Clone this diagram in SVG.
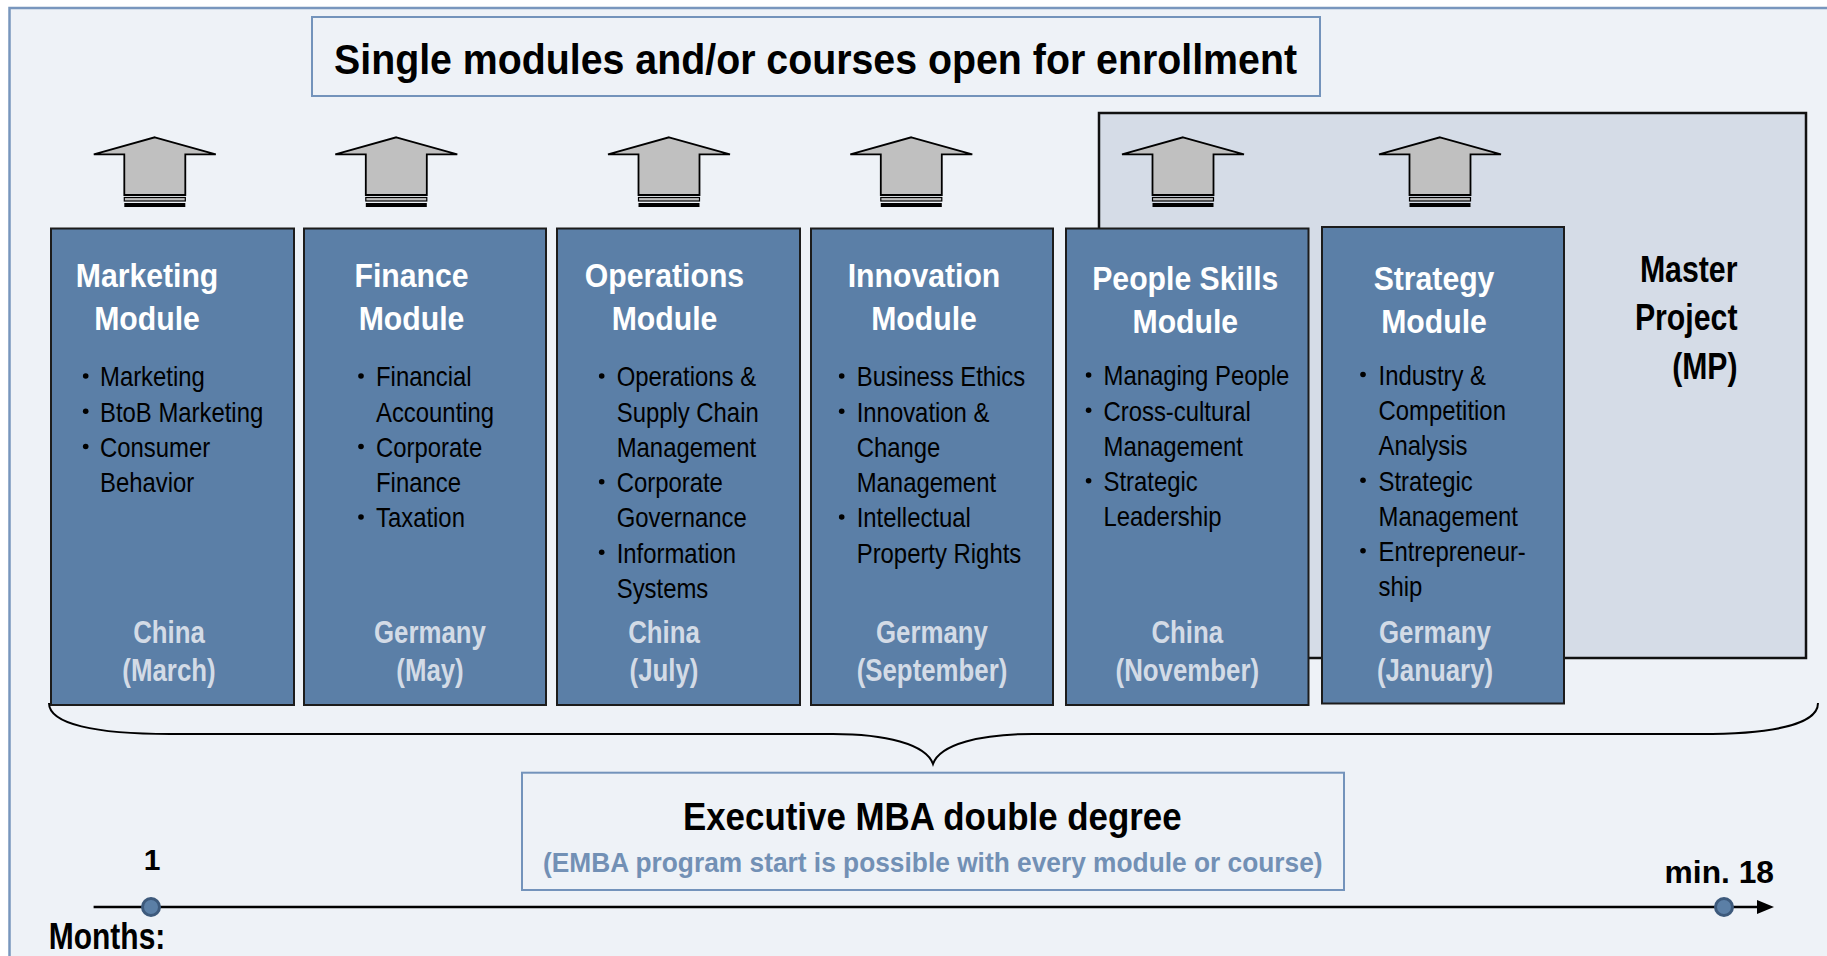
<svg xmlns="http://www.w3.org/2000/svg" width="1827" height="956" viewBox="0 0 1827 956">
<style>
text{font-family:"Liberation Sans",Arial,sans-serif}
.mod{fill:#5b7fa7;stroke:#1c1c1c;stroke-width:2}
.mt{font-size:33px;font-weight:bold;fill:#ffffff}
.bl{font-size:28px;fill:#000000}
.loc{font-size:31.5px;font-weight:bold;fill:#d3dbe6}
.dot{fill:#000000}
.tl{font-size:30px;font-weight:bold;fill:#000}
</style>
<defs>
<g id="arr">
<polygon points="0,137.3 61,154.3 30.5,154.3 30.5,195 -30.5,195 -30.5,154.3 -61,154.3" fill="#c0c0c0" stroke="#000" stroke-width="1.8"/>
<rect x="-30.5" y="197.5" width="61" height="3.5" fill="#c0c0c0" stroke="#000" stroke-width="1.2"/>
<rect x="-30.5" y="203" width="61" height="4" fill="#000"/>
</g>
<marker id="ah" markerUnits="userSpaceOnUse" markerWidth="20" markerHeight="16" refX="0" refY="0" orient="auto" overflow="visible"><polygon points="0,-7 17,0 0,7" fill="#000"/></marker>
</defs>
<rect x="0" y="0" width="1827" height="956" fill="#ffffff"/>
<rect x="9.5" y="8" width="1840" height="970" fill="#eef2f7" stroke="#7896bd" stroke-width="2.5"/>

<g id="title-box">
<rect x="312" y="17" width="1008" height="79" fill="#eef2f7" stroke="#7393bb" stroke-width="2"/>
<text x="815.5" y="74" text-anchor="middle" font-size="43" font-weight="bold" textLength="963" lengthAdjust="spacingAndGlyphs">Single modules and/or courses open for enrollment</text>
</g>

<g id="master-project">
<rect x="1099" y="113" width="707" height="545" fill="#d5dce7" stroke="#111" stroke-width="2.5"/>
<text x="1737.5" y="282" text-anchor="end" font-size="36" font-weight="bold" textLength="97.6" lengthAdjust="spacingAndGlyphs">Master</text>
<text x="1737.5" y="330" text-anchor="end" font-size="36" font-weight="bold" textLength="102.6" lengthAdjust="spacingAndGlyphs">Project</text>
<text x="1737.5" y="379" text-anchor="end" font-size="36" font-weight="bold" textLength="65.3" lengthAdjust="spacingAndGlyphs">(MP)</text>
</g>

<g id="connectors">
<use href="#arr" x="154.8"/>
<use href="#arr" x="396.3"/>
<use href="#arr" x="669"/>
<use href="#arr" x="911.3"/>
<use href="#arr" x="1183"/>
<use href="#arr" x="1440"/>
<path d="M49,703 C49,724 95,734 170,734 L833,734 C885,734 926,744 933,764 C940,744 981,734 1033,734 L1700,734 C1770,734 1818,725 1818,703" fill="none" stroke="#000" stroke-width="2"/>
<line x1="93.6" y1="907" x2="1757" y2="907" stroke="#000" stroke-width="2.5" marker-end="url(#ah)"/>
<circle cx="151" cy="907" r="8.5" fill="#5b7fa6" stroke="#3d5a7c" stroke-width="3"/>
<circle cx="1724" cy="907" r="8.5" fill="#5b7fa6" stroke="#3d5a7c" stroke-width="3"/>
</g>

<g id="marketing-module">
<rect class="mod" x="51" y="228.5" width="243" height="476.5"/>
<text class="mt" text-anchor="middle" transform="translate(147 0) scale(0.915 1)" x="0" y="286.7">Marketing</text>
<text class="mt" text-anchor="middle" transform="translate(147 0) scale(0.915 1)" x="0" y="330">Module</text>
<circle class="dot" cx="85.7" cy="376" r="2.8"/><circle class="dot" cx="85.7" cy="411.25" r="2.8"/><circle class="dot" cx="85.7" cy="446.5" r="2.8"/>
<g transform="translate(100 0) scale(0.853 1)">
<text class="bl" x="0" y="386.5">Marketing</text>
<text class="bl" x="0" y="421.75">BtoB Marketing</text>
<text class="bl" x="0" y="457">Consumer</text>
<text class="bl" x="0" y="492.25">Behavior</text>
</g>
<text class="loc" text-anchor="middle" transform="translate(169 0) scale(0.82 1)" x="0" y="643.5">China</text>
<text class="loc" text-anchor="middle" transform="translate(169 0) scale(0.82 1)" x="0" y="681.5">(March)</text>
</g>

<g id="finance-module">
<rect class="mod" x="304" y="228.5" width="242" height="476.5"/>
<text class="mt" text-anchor="middle" transform="translate(411.5 0) scale(0.915 1)" x="0" y="286.7">Finance</text>
<text class="mt" text-anchor="middle" transform="translate(411.5 0) scale(0.915 1)" x="0" y="330">Module</text>
<circle class="dot" cx="361" cy="376" r="2.8"/><circle class="dot" cx="361" cy="446.5" r="2.8"/><circle class="dot" cx="361" cy="517" r="2.8"/>
<g transform="translate(376 0) scale(0.853 1)">
<text class="bl" x="0" y="386.5">Financial</text>
<text class="bl" x="0" y="421.75">Accounting</text>
<text class="bl" x="0" y="457">Corporate</text>
<text class="bl" x="0" y="492.25">Finance</text>
<text class="bl" x="0" y="527.5">Taxation</text>
</g>
<text class="loc" text-anchor="middle" transform="translate(430 0) scale(0.82 1)" x="0" y="643.5">Germany</text>
<text class="loc" text-anchor="middle" transform="translate(430 0) scale(0.82 1)" x="0" y="681.5">(May)</text>
</g>

<g id="operations-module">
<rect class="mod" x="557" y="228.5" width="243" height="476.5"/>
<text class="mt" text-anchor="middle" transform="translate(664.5 0) scale(0.915 1)" x="0" y="286.7">Operations</text>
<text class="mt" text-anchor="middle" transform="translate(664.5 0) scale(0.915 1)" x="0" y="330">Module</text>
<circle class="dot" cx="601.7" cy="376" r="2.8"/><circle class="dot" cx="601.7" cy="481.75" r="2.8"/><circle class="dot" cx="601.7" cy="552.25" r="2.8"/>
<g transform="translate(616.7 0) scale(0.853 1)">
<text class="bl" x="0" y="386.5">Operations &amp;</text>
<text class="bl" x="0" y="421.75">Supply Chain</text>
<text class="bl" x="0" y="457">Management</text>
<text class="bl" x="0" y="492.25">Corporate</text>
<text class="bl" x="0" y="527.5">Governance</text>
<text class="bl" x="0" y="562.75">Information</text>
<text class="bl" x="0" y="598">Systems</text>
</g>
<text class="loc" text-anchor="middle" transform="translate(664 0) scale(0.82 1)" x="0" y="643.5">China</text>
<text class="loc" text-anchor="middle" transform="translate(664 0) scale(0.82 1)" x="0" y="681.5">(July)</text>
</g>

<g id="innovation-module">
<rect class="mod" x="811" y="228.5" width="242" height="476.5"/>
<text class="mt" text-anchor="middle" transform="translate(924 0) scale(0.915 1)" x="0" y="286.7">Innovation</text>
<text class="mt" text-anchor="middle" transform="translate(924 0) scale(0.915 1)" x="0" y="330">Module</text>
<circle class="dot" cx="841.7" cy="376" r="2.8"/><circle class="dot" cx="841.7" cy="411.25" r="2.8"/><circle class="dot" cx="841.7" cy="517" r="2.8"/>
<g transform="translate(856.7 0) scale(0.853 1)">
<text class="bl" x="0" y="386.5">Business Ethics</text>
<text class="bl" x="0" y="421.75">Innovation &amp;</text>
<text class="bl" x="0" y="457">Change</text>
<text class="bl" x="0" y="492.25">Management</text>
<text class="bl" x="0" y="527.5">Intellectual</text>
<text class="bl" x="0" y="562.75">Property Rights</text>
</g>
<text class="loc" text-anchor="middle" transform="translate(932 0) scale(0.82 1)" x="0" y="643.5">Germany</text>
<text class="loc" text-anchor="middle" transform="translate(932 0) scale(0.82 1)" x="0" y="681.5">(September)</text>
</g>

<g id="people-skills-module">
<rect class="mod" x="1066" y="228.5" width="242.5" height="476.5"/>
<text class="mt" text-anchor="middle" transform="translate(1185.3 0) scale(0.915 1)" x="0" y="289.8">People Skills</text>
<text class="mt" text-anchor="middle" transform="translate(1185.3 0) scale(0.915 1)" x="0" y="333.3">Module</text>
<circle class="dot" cx="1088.6" cy="375" r="2.8"/><circle class="dot" cx="1088.6" cy="410.25" r="2.8"/><circle class="dot" cx="1088.6" cy="480.75" r="2.8"/>
<g transform="translate(1103.5 0) scale(0.853 1)">
<text class="bl" x="0" y="385.5">Managing People</text>
<text class="bl" x="0" y="420.75">Cross-cultural</text>
<text class="bl" x="0" y="456">Management</text>
<text class="bl" x="0" y="491.25">Strategic</text>
<text class="bl" x="0" y="526.5">Leadership</text>
</g>
<text class="loc" text-anchor="middle" transform="translate(1187.3 0) scale(0.82 1)" x="0" y="643.5">China</text>
<text class="loc" text-anchor="middle" transform="translate(1187.3 0) scale(0.82 1)" x="0" y="681.5">(November)</text>
</g>

<g id="strategy-module">
<rect class="mod" x="1322" y="227" width="242" height="476.5"/>
<text class="mt" text-anchor="middle" transform="translate(1434 0) scale(0.915 1)" x="0" y="290">Strategy</text>
<text class="mt" text-anchor="middle" transform="translate(1434 0) scale(0.915 1)" x="0" y="333">Module</text>
<circle class="dot" cx="1363" cy="374.5" r="2.8"/><circle class="dot" cx="1363" cy="480.25" r="2.8"/><circle class="dot" cx="1363" cy="550.75" r="2.8"/>
<g transform="translate(1378.5 0) scale(0.853 1)">
<text class="bl" x="0" y="385">Industry &amp;</text>
<text class="bl" x="0" y="420.25">Competition</text>
<text class="bl" x="0" y="455.5">Analysis</text>
<text class="bl" x="0" y="490.75">Strategic</text>
<text class="bl" x="0" y="526">Management</text>
<text class="bl" x="0" y="561.25">Entrepreneur-</text>
<text class="bl" x="0" y="596.5">ship</text>
</g>
<text class="loc" text-anchor="middle" transform="translate(1435 0) scale(0.82 1)" x="0" y="643.5">Germany</text>
<text class="loc" text-anchor="middle" transform="translate(1435 0) scale(0.82 1)" x="0" y="681.5">(January)</text>
</g>

<g id="emba-box">
<rect x="522" y="772.7" width="822" height="117.3" fill="#eef2f7" stroke="#7393bb" stroke-width="2"/>
<text x="932.3" y="830" text-anchor="middle" font-size="38" font-weight="bold" textLength="498.7" lengthAdjust="spacingAndGlyphs">Executive MBA double degree</text>
<text x="932.8" y="871.7" text-anchor="middle" font-size="28" font-weight="bold" fill="#7290b5" textLength="779.7" lengthAdjust="spacingAndGlyphs">(EMBA program start is possible with every module or course)</text>
</g>

<g id="timeline-labels">
<text class="tl" x="152" y="870" text-anchor="middle">1</text>
<text x="1774" y="882.7" text-anchor="end" font-size="32" font-weight="bold" textLength="109.4" lengthAdjust="spacingAndGlyphs">min. 18</text>
<text x="48.8" y="949" font-size="36" font-weight="bold" textLength="116.5" lengthAdjust="spacingAndGlyphs">Months:</text>
</g>
</svg>
